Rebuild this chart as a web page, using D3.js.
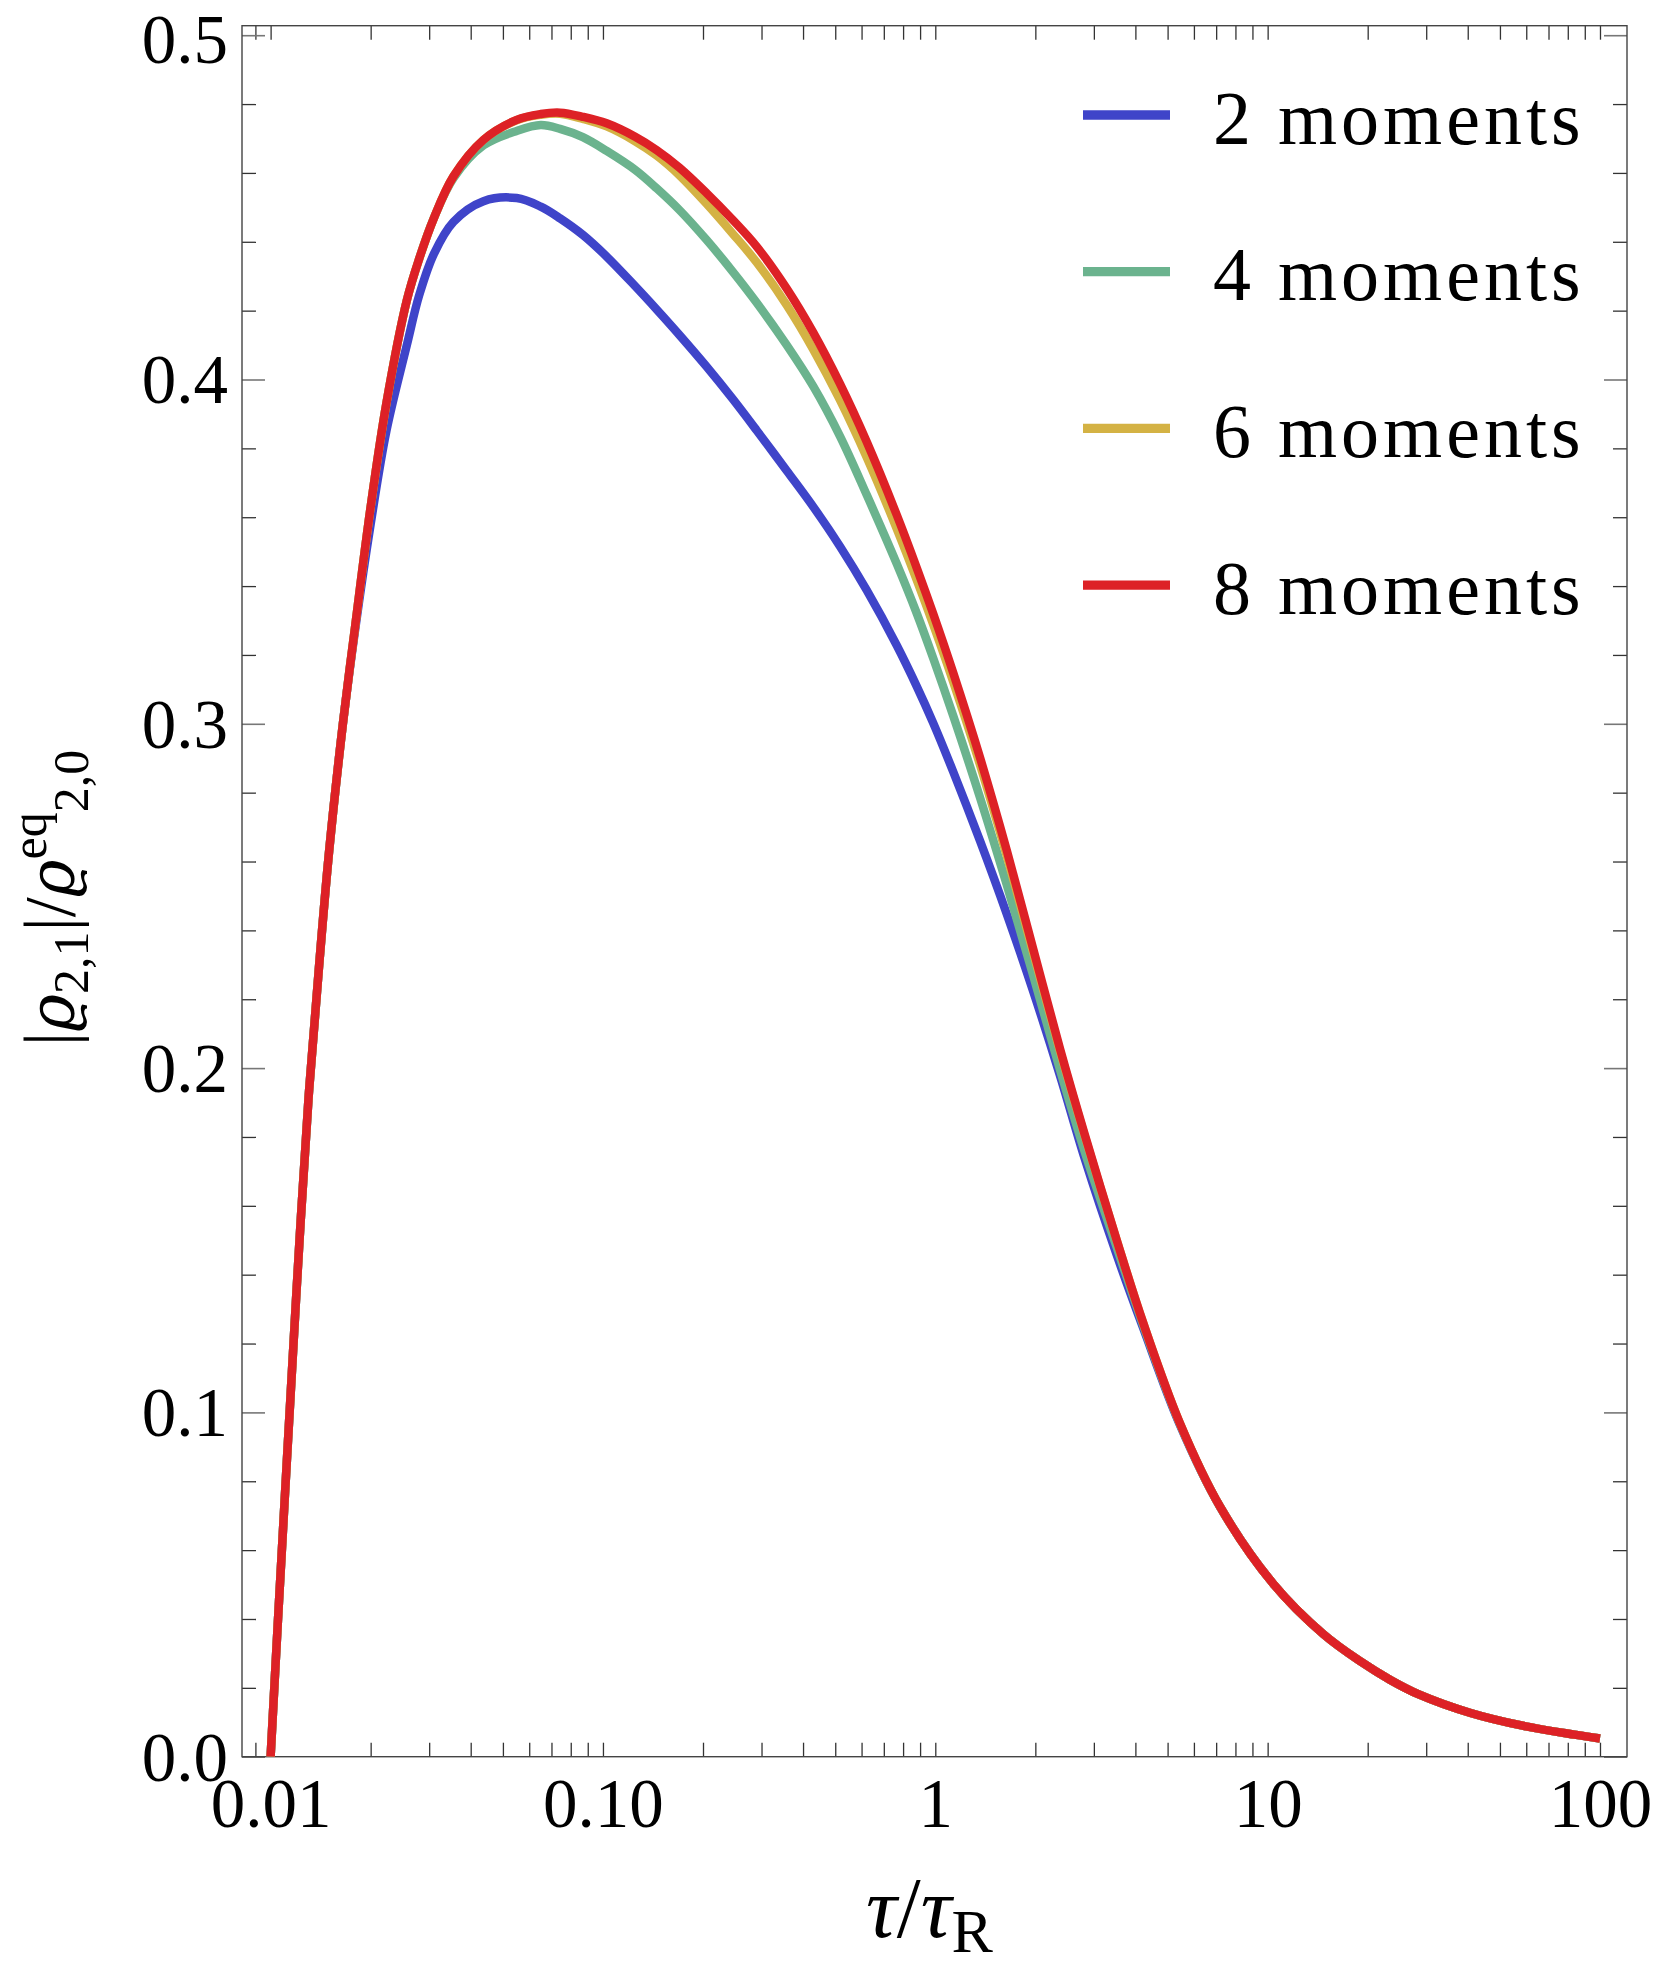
<!DOCTYPE html>
<html>
<head>
<meta charset="utf-8">
<script src="https://cdn.jsdelivr.net/npm/d3@7"></script>
<style>
  body { margin: 0; background: #fff; }
  svg { display: block; }
</style>
</head>
<body>
<svg id="chart" width="1661" height="1964"></svg>
<script>
// values (tau / tau_R on a log axis)
const tau = [0.0100, 0.0105, 0.0110, 0.0115, 0.0122, 0.0130, 0.0140, 0.0150, 0.0165, 0.0180,
  0.0200, 0.0223, 0.0257, 0.0280, 0.0310, 0.0355, 0.0437, 0.0550, 0.0650, 0.0743,
  0.0870, 0.1026, 0.1250, 0.1452, 0.1700, 0.2052, 0.2450, 0.2902, 0.3573, 0.4295,
  0.5169, 0.6217, 0.7653, 0.8800, 0.9860, 1.133, 1.363, 1.640, 1.972, 2.373,
  2.820, 3.513, 4.225, 5.448, 7.190, 10.40, 14.71, 19.00, 23.40, 28.50,
  40.80, 58.50, 83.80, 100.0];

const moments2 = [0, 0.038, 0.073, 0.106, 0.149, 0.191, 0.230, 0.263, 0.300, 0.328,
  0.358, 0.385, 0.410, 0.4245, 0.4365, 0.4458, 0.4518, 0.4527, 0.4502, 0.4468,
  0.4420, 0.4357, 0.4271, 0.4203, 0.4129, 0.4037, 0.3945, 0.3852, 0.3735, 0.3630,
  0.3515, 0.3388, 0.3228, 0.3108, 0.3002, 0.2860, 0.2660, 0.2448, 0.2222, 0.1978,
  0.1735, 0.1458, 0.1244, 0.0963, 0.0726, 0.0502, 0.0356, 0.0277, 0.0223, 0.0181,
  0.0127, 0.0090, 0.0064, 0.0053];

const moments4 = [0, 0.038, 0.073, 0.106, 0.149, 0.191, 0.230, 0.263, 0.300, 0.329,
  0.363, 0.393, 0.423, 0.4351, 0.4469, 0.4585, 0.4680, 0.4722, 0.4739, 0.4728,
  0.4704, 0.4664, 0.4609, 0.4555, 0.4492, 0.4405, 0.4315, 0.4223, 0.4100, 0.3980,
  0.3835, 0.3665, 0.3465, 0.3320, 0.3190, 0.3022, 0.2786, 0.2533, 0.2268, 0.1995,
  0.1755, 0.1480, 0.1252, 0.0966, 0.0726, 0.0502, 0.0356, 0.0277, 0.0223, 0.0181,
  0.0127, 0.0090, 0.0064, 0.0053];

const moments6 = [0, 0.038, 0.073, 0.106, 0.149, 0.191, 0.230, 0.263, 0.300, 0.329,
  0.363, 0.393, 0.423, 0.4351, 0.4469, 0.459, 0.4696, 0.4753, 0.4769, 0.4772,
  0.4757, 0.4735, 0.4692, 0.4650, 0.4593, 0.4510, 0.4425, 0.4340, 0.4216, 0.4087,
  0.3940, 0.3774, 0.3567, 0.3417, 0.3288, 0.3121, 0.2881, 0.2617, 0.2334, 0.2049,
  0.1801, 0.1501, 0.1259, 0.0968, 0.0726, 0.0502, 0.0356, 0.0277, 0.0223, 0.0181,
  0.0127, 0.0090, 0.0064, 0.0053];

const moments8 = [0, 0.038, 0.073, 0.106, 0.149, 0.191, 0.230, 0.263, 0.300, 0.329,
  0.363, 0.393, 0.423, 0.4351, 0.4469, 0.459, 0.4696, 0.4754, 0.4771, 0.4775,
  0.4763, 0.4744, 0.4705, 0.4666, 0.4615, 0.4541, 0.4465, 0.4386, 0.4264, 0.4136,
  0.3987, 0.3819, 0.3607, 0.3452, 0.3319, 0.3147, 0.2902, 0.2633, 0.2345, 0.2056,
  0.1805, 0.1501, 0.1259, 0.0968, 0.0726, 0.0502, 0.0356, 0.0277, 0.0223, 0.0181,
  0.0127, 0.0090, 0.0064, 0.0053];

const seriesNames = ["2 moments", "4 moments", "6 moments", "8 moments"];
const seriesColors = ["#3f44c9", "#6bb38e", "#d4b244", "#dd2126"];

const xTickValues = [0.01, 0.1, 1, 10, 100];
const xTickLabels = ["0.01", "0.10", "1", "10", "100"];
const yTickValues = [0, 0.1, 0.2, 0.3, 0.4, 0.5];
const yTickLabels = ["0.0", "0.1", "0.2", "0.3", "0.4", "0.5"];

const FONT = '"Liberation Serif", "Times New Roman", serif';

// plot box
const box = {left: 242, right: 1627, top: 25.7, bottom: 1756.7};

const x = d3.scaleLog().domain([0.008202, 120.58]).range([box.left, box.right]);
const y = d3.scaleLinear().domain([0, 0.50276]).range([box.bottom, box.top]);

const svg = d3.select("#chart");

// minor tick positions
const xMinor = [];
[0.001, 0.01, 0.1, 1, 10, 100].forEach(d => {
  for (let k = 2; k <= 9; k++) {
    const v = d * k;
    if (v > x.domain()[0] && v < x.domain()[1]) xMinor.push(v);
  }
});
const yMinor = d3.range(0, 0.51, 0.02).filter(v => Math.abs(v * 10 - Math.round(v * 10)) > 1e-6);

const styleAxis = (g, color, width) => {
  g.select(".domain").remove();
  g.attr("font-family", FONT).attr("font-size", 69);
  g.selectAll(".tick line").attr("stroke", color).attr("stroke-width", width);
  g.selectAll(".tick text").attr("fill", "#000");
};

// bottom axis
const gb = svg.append("g").attr("transform", `translate(0,${box.bottom})`);
gb.call(d3.axisBottom(x).tickValues(xTickValues).tickFormat((d, i) => xTickLabels[i])
  .tickSizeInner(-14).tickSizeOuter(0).tickPadding(21));
styleAxis(gb, "#333", 1.3);
const gbm = svg.append("g").attr("transform", `translate(0,${box.bottom})`);
gbm.call(d3.axisBottom(x).tickValues(xMinor).tickFormat("").tickSizeInner(-14).tickSizeOuter(0));
styleAxis(gbm, "#333", 1.3);

// top axis (mirror, no labels)
const gt = svg.append("g").attr("transform", `translate(0,${box.top})`);
gt.call(d3.axisTop(x).tickValues(xTickValues.concat(xMinor)).tickFormat("").tickSizeInner(-14).tickSizeOuter(0));
styleAxis(gt, "#333", 1.3);

// left axis
const gl = svg.append("g").attr("transform", `translate(${box.left},0)`);
gl.call(d3.axisLeft(y).tickValues(yTickValues).tickFormat((d, i) => yTickLabels[i])
  .tickSizeInner(-23).tickSizeOuter(0).tickPadding(14));
styleAxis(gl, "#777", 1.6);
gl.selectAll(".tick text").attr("dy", d => d === 0.5 ? "0.39em" : "0.34em");
const glm = svg.append("g").attr("transform", `translate(${box.left},0)`);
glm.call(d3.axisLeft(y).tickValues(yMinor).tickFormat("").tickSizeInner(-14).tickSizeOuter(0));
styleAxis(glm, "#333", 1.3);

// right axis (mirror)
const gr = svg.append("g").attr("transform", `translate(${box.right},0)`);
gr.call(d3.axisRight(y).tickValues(yTickValues).tickFormat("").tickSizeInner(-23).tickSizeOuter(0));
styleAxis(gr, "#777", 1.6);
const grm = svg.append("g").attr("transform", `translate(${box.right},0)`);
grm.call(d3.axisRight(y).tickValues(yMinor).tickFormat("").tickSizeInner(-14).tickSizeOuter(0));
styleAxis(grm, "#333", 1.3);

// frame
svg.append("rect")
  .attr("x", box.left).attr("y", box.top)
  .attr("width", box.right - box.left).attr("height", box.bottom - box.top)
  .attr("fill", "none").attr("stroke", "#444").attr("stroke-width", 1.4);

// curves
svg.append("clipPath").attr("id", "plotclip").append("rect")
  .attr("x", box.left).attr("y", box.top)
  .attr("width", box.right - box.left).attr("height", box.bottom - box.top);

const line = d3.line()
  .x(d => x(d[0]))
  .y(d => y(d[1]))
  .curve(d3.curveCatmullRom.alpha(0.5));

const series = [moments2, moments4, moments6, moments8];
svg.append("g").attr("clip-path", "url(#plotclip)")
  .selectAll("path")
  .data(series)
  .join("path")
  .attr("d", vals => line(tau.map((t, i) => [t, vals[i]])))
  .attr("fill", "none")
  .attr("stroke", (d, i) => seriesColors[i])
  .attr("stroke-width", 8.5)
  .attr("stroke-linejoin", "round")
  .attr("stroke-linecap", "butt");

// legend
const legend = svg.append("g");
seriesNames.forEach((name, i) => {
  const ly = 115 + i * 156.7;
  legend.append("line")
    .attr("x1", 1083).attr("x2", 1170)
    .attr("y1", ly).attr("y2", ly)
    .attr("stroke", seriesColors[i]).attr("stroke-width", 9.3);
  legend.append("text")
    .attr("x", 1213).attr("y", ly + 28.5)
    .attr("font-family", FONT).attr("font-size", 76)
    .attr("letter-spacing", 4)
    .text(name);
});

// x axis title: tau / tau_R
const xt = svg.append("text")
  .attr("x", 866).attr("y", 1937)
  .attr("font-family", FONT).attr("font-size", 86);
xt.append("tspan").attr("font-style", "italic").text("τ");
xt.append("tspan").text("/");
xt.append("tspan").attr("font-style", "italic").text("τ");
xt.append("tspan").attr("font-size", 62).attr("dy", 15).text("R");

// y axis title: |rho_{2,1}| / rho^{eq}_{2,0}
const yt = svg.append("text")
  .attr("transform", "translate(74,898) rotate(-90)")
  .attr("text-anchor", "middle")
  .attr("font-family", FONT).attr("font-size", 72);
yt.append("tspan").text("|");
yt.append("tspan").attr("font-style", "italic").attr("font-family", '"DejaVu Serif", serif').attr("font-size", 64).text("ϱ");
yt.append("tspan").attr("font-size", 50).attr("dy", 14).text("2,1");
yt.append("tspan").attr("dy", -14).text("|/");
yt.append("tspan").attr("font-style", "italic").attr("font-family", '"DejaVu Serif", serif').attr("font-size", 64).text("ϱ");
yt.append("tspan").attr("font-size", 50).attr("dy", -28).text("eq");
yt.append("tspan").attr("font-size", 50).attr("dy", 42).text("2,0");
</script>
</body>
</html>
